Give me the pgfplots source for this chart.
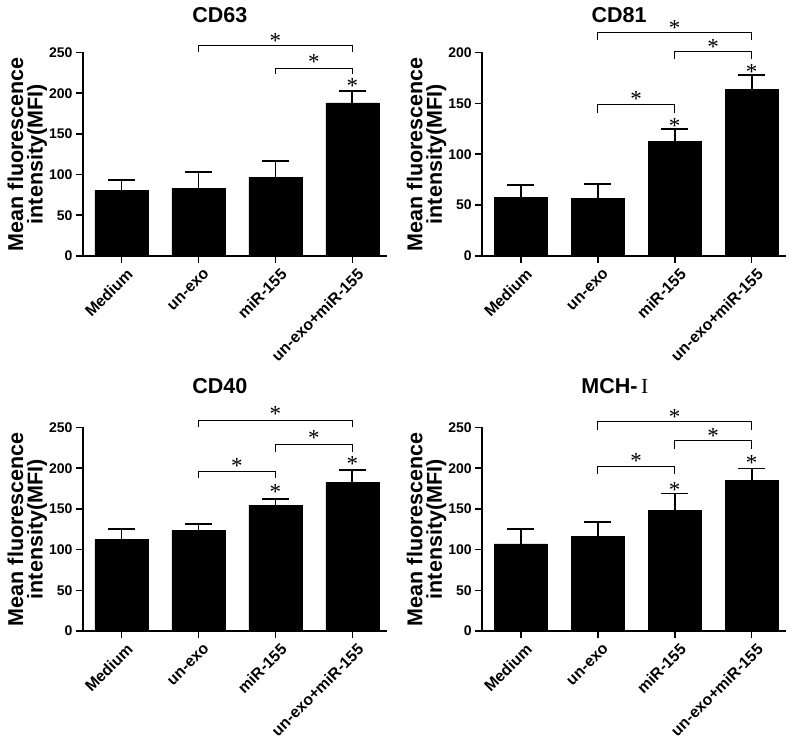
\documentclass[border=0pt]{standalone}
\usepackage{fontspec}
\setmainfont{Liberation Sans}
\newfontfamily\starfont{Liberation Serif}
\usepackage{pgfplots}
\pgfplotsset{compat=1.18}

\pgfplotstableread{
x y e
0 80.5 13
1 83 20
2 97 20
3 188 14.5
}\cdsixtythree
\pgfplotstableread{
x y e
0 57.4 12.6
1 56.5 14.5
2 112.5 12.5
3 164 13.5
}\cdeightyone
\pgfplotstableread{
x y e
0 112.5 12.5
1 123.6 7.4
2 154.7 7
3 182.5 15
}\cdforty
\pgfplotstableread{
x y e
0 107 18.6
1 116 18
2 148.5 20.5
3 185 14.7
}\mch

\pgfplotsset{
  mfi/.style={
    scale only axis, width=304pt, height=203.5pt,
    xmin=-0.5, xmax=3.45, ymin=0,
    axis x line*=bottom, axis y line*=left,
    axis line style={line width=1.8pt},
    xtick={0,1,2,3},
    xticklabels={Medium,un-exo,miR-155,un-exo+miR-155},
    xticklabel style={rotate=45, anchor=east, font=\bfseries\fontsize{15.8}{16}\selectfont, inner sep=1pt, yshift=-12pt, xshift=1pt},
    yticklabel style={font=\bfseries\fontsize{14}{14}\selectfont},
    /pgf/number format/assume math mode=true,
    tick style={line width=1.6pt, black},
    tick align=outside, major tick length=7pt,
    ylabel={Mean fluorescence\\intensity(MFI)},
    ylabel style={align=center, font=\bfseries\fontsize{21.5}{19.5}\selectfont, at={(axis description cs:-0.183,0.5)}, anchor=center},
    title style={at={(axis description cs:0.45,1)}, anchor=base, font=\bfseries\fontsize{21.5}{22}\selectfont},
    clip=false,
    ybar, bar width=53pt,
  },
  barplot/.style={fill=black, draw=black,
    error bars/.cd, y dir=plus, y explicit,
    error bar style={line width=1.8pt, black},
    error mark options={line width=1.8pt, mark size=13.5pt, black, rotate=90}},
}
\tikzset{
  st/.style={font=\starfont\fontsize{23}{23}\selectfont, anchor=base, yshift=-10.5pt, inner sep=0pt},
  br/.style={line width=1pt, black},
}

\begin{document}
\begin{tikzpicture}
\useasboundingbox (0,0) rectangle (800pt,744pt);

% CD63
\begin{axis}[mfi, at={(83pt,488pt)}, anchor=south west, ymax=250, ytick={0,50,...,250},
  title={CD63}, title style={yshift=24pt}]
\addplot[barplot] table[x=x, y=y, y error=e] {\cdsixtythree};
\draw[br] (axis cs:1,250) -- (axis cs:1,258) -- (axis cs:3,258) -- (axis cs:3,250);
\draw[br] (axis cs:2,223) -- (axis cs:2,230.7) -- (axis cs:3,230.7) -- (axis cs:3,223);
\node[st] at (axis cs:2,268) {*};
\node[st] at (axis cs:2.5,242) {*};
\node[st] at (axis cs:3,212) {*};
\end{axis}

% CD81
\begin{axis}[mfi, at={(482.3pt,488pt)}, anchor=south west, ymax=200, ytick={0,50,...,200},
  title={CD81}, title style={yshift=24pt}]
\addplot[barplot] table[x=x, y=y, y error=e] {\cdeightyone};
\draw[br] (axis cs:1,211.8) -- (axis cs:1,219.7) -- (axis cs:3,219.7) -- (axis cs:3,211.8);
\draw[br] (axis cs:2,193.4) -- (axis cs:2,201) -- (axis cs:3,201) -- (axis cs:3,193.4);
\draw[br] (axis cs:1,141) -- (axis cs:1,149) -- (axis cs:2,149) -- (axis cs:2,141);
\node[st] at (axis cs:2,227) {*};
\node[st] at (axis cs:2.5,208) {*};
\node[st] at (axis cs:1.5,157) {*};
\node[st] at (axis cs:2,131) {*};
\node[st] at (axis cs:3,183.6) {*};
\end{axis}

% CD40
\begin{axis}[mfi, at={(83pt,113pt)}, anchor=south west, ymax=250, ytick={0,50,...,250},
  title={CD40}, title style={yshift=28pt}]
\addplot[barplot] table[x=x, y=y, y error=e] {\cdforty};
\draw[br] (axis cs:1,250) -- (axis cs:1,259) -- (axis cs:3,259) -- (axis cs:3,250);
\draw[br] (axis cs:2,220) -- (axis cs:2,229.5) -- (axis cs:3,229.5) -- (axis cs:3,220);
\draw[br] (axis cs:1,187.4) -- (axis cs:1,196.4) -- (axis cs:2,196.4) -- (axis cs:2,187.4);
\node[st] at (axis cs:2,270) {*};
\node[st] at (axis cs:2.5,240.6) {*};
\node[st] at (axis cs:1.5,207) {*};
\node[st] at (axis cs:2,174) {*};
\node[st] at (axis cs:3,208.7) {*};
\end{axis}

% MCH-I
\begin{axis}[mfi, at={(482.3pt,113pt)}, anchor=south west, ymax=250, ytick={0,50,...,250},
  title={MCH-\,{\starfont\mdseries I}}, title style={yshift=28pt, at={(axis description cs:0.436,1)}}]
\addplot[barplot] table[x=x, y=y, y error=e] {\mch};
\draw[br] (axis cs:1,246.7) -- (axis cs:1,257) -- (axis cs:3,257) -- (axis cs:3,246.7);
\draw[br] (axis cs:2,224) -- (axis cs:2,233.6) -- (axis cs:3,233.6) -- (axis cs:3,224);
\draw[br] (axis cs:1,192.7) -- (axis cs:1,201.7) -- (axis cs:2,201.7) -- (axis cs:2,192.7);
\node[st] at (axis cs:2,267) {*};
\node[st] at (axis cs:2.5,243) {*};
\node[st] at (axis cs:1.5,212.8) {*};
\node[st] at (axis cs:2,177) {*};
\node[st] at (axis cs:3,210) {*};
\end{axis}
\end{tikzpicture}
\end{document}
